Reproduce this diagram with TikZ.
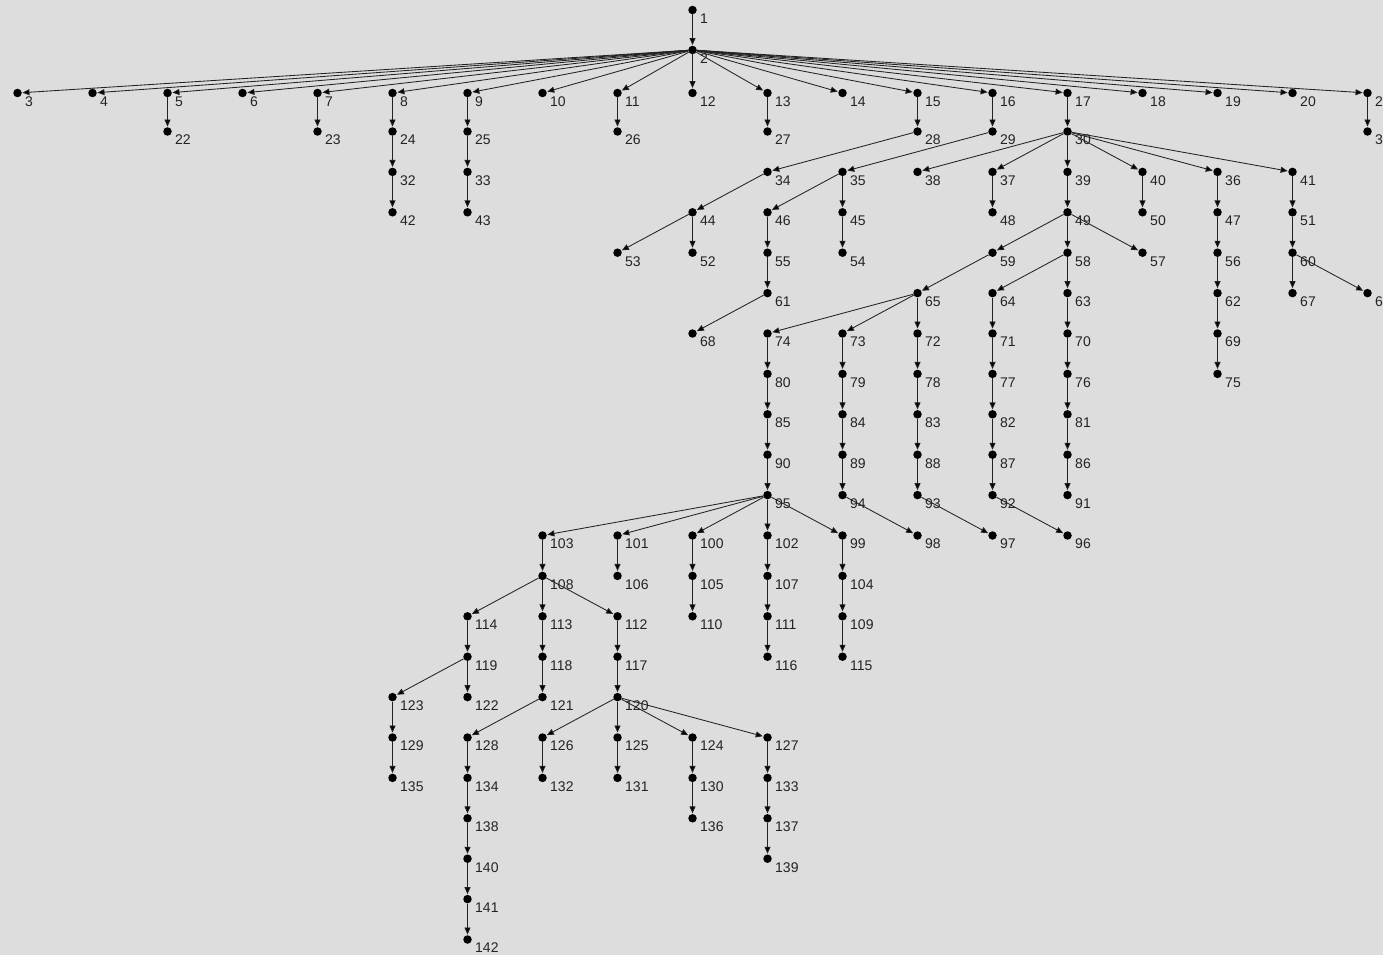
\documentclass[tikz,border=0pt]{standalone}
\usepackage{fontspec}
\setmainfont{Liberation Sans}
\usetikzlibrary{arrows.meta}
\definecolor{bg}{RGB}{221,221,221}
\definecolor{ink}{RGB}{35,35,35}
\tikzset{
  dot/.style={circle,fill=black,inner sep=0pt,minimum size=8.5pt},
  lbl/.style={anchor=north west,inner sep=0pt,text=ink,font=\fontsize{14}{15}\selectfont},
  edge/.style={draw=ink,line width=0.85pt,-{Triangle[length=7pt,width=6pt,fill=black]},shorten >=0.5pt},
}
\newcommand\treenodes{1/9/0, 2/9/1,
 3/0/2, 4/1/2, 5/2/2, 6/3/2, 7/4/2, 8/5/2, 9/6/2, 10/7/2, 11/8/2, 12/9/2, 13/10/2, 14/11/2, 15/12/2, 16/13/2, 17/14/2, 18/15/2, 19/16/2, 20/17/2, 21/18/2,
 22/2/3, 23/4/3, 24/5/3, 25/6/3, 26/8/3, 27/10/3, 28/12/3, 29/13/3, 30/14/3, 31/18/3,
 32/5/4, 33/6/4, 34/10/4, 35/11/4, 38/12/4, 37/13/4, 39/14/4, 40/15/4, 36/16/4, 41/17/4,
 42/5/5, 43/6/5, 44/9/5, 46/10/5, 45/11/5, 48/13/5, 49/14/5, 50/15/5, 47/16/5, 51/17/5,
 53/8/6, 52/9/6, 55/10/6, 54/11/6, 59/13/6, 58/14/6, 57/15/6, 56/16/6, 60/17/6,
 61/10/7, 65/12/7, 64/13/7, 63/14/7, 62/16/7, 67/17/7, 66/18/7,
 68/9/8, 74/10/8, 73/11/8, 72/12/8, 71/13/8, 70/14/8, 69/16/8,
 80/10/9, 79/11/9, 78/12/9, 77/13/9, 76/14/9, 75/16/9,
 85/10/10, 84/11/10, 83/12/10, 82/13/10, 81/14/10,
 90/10/11, 89/11/11, 88/12/11, 87/13/11, 86/14/11,
 95/10/12, 94/11/12, 93/12/12, 92/13/12, 91/14/12,
 103/7/13, 101/8/13, 100/9/13, 102/10/13, 99/11/13, 98/12/13, 97/13/13, 96/14/13,
 108/7/14, 106/8/14, 105/9/14, 107/10/14, 104/11/14,
 114/6/15, 113/7/15, 112/8/15, 110/9/15, 111/10/15, 109/11/15,
 119/6/16, 118/7/16, 117/8/16, 116/10/16, 115/11/16,
 123/5/17, 122/6/17, 121/7/17, 120/8/17,
 129/5/18, 128/6/18, 126/7/18, 125/8/18, 124/9/18, 127/10/18,
 135/5/19, 134/6/19, 132/7/19, 131/8/19, 130/9/19, 133/10/19,
 138/6/20, 136/9/20, 137/10/20,
 140/6/21, 139/10/21,
 141/6/22,
 142/6/23}
\begin{document}
\begin{tikzpicture}[x=1pt,y=-1pt]
\fill[bg] (0,0) rectangle (1383,955);
\clip (0,0) rectangle (1383,955);
\foreach \n/\c/\l in \treenodes {
  \pgfmathsetmacro\xx{17.5+75*\c}
  \pgfmathsetmacro\yy{\l==0 ? 10 : (\l==1 ? 50 : (\l==2 ? 93 : 131.5+40.4*(\l-3)))}
  \node[dot] (n\n) at (\xx,\yy) {};
}
\foreach \a/\b in {1/2, 2/3, 2/4, 2/5, 2/6, 2/7, 2/8, 2/9, 2/10, 2/11, 2/12, 2/13, 2/14, 2/15, 2/16, 2/17, 2/18, 2/19, 2/20, 2/21,
 5/22, 7/23, 8/24, 9/25, 11/26, 13/27, 15/28, 16/29, 17/30, 21/31,
 24/32, 25/33, 28/34, 29/35, 30/38, 30/37, 30/39, 30/40, 30/36, 30/41,
 32/42, 33/43, 34/44, 35/46, 35/45, 37/48, 39/49, 40/50, 36/47, 41/51,
 44/53, 44/52, 46/55, 45/54, 49/59, 49/58, 49/57, 47/56, 51/60,
 55/61, 59/65, 58/64, 58/63, 56/62, 60/67, 60/66,
 61/68, 65/74, 65/73, 65/72, 64/71, 63/70, 62/69,
 74/80, 73/79, 72/78, 71/77, 70/76, 69/75,
 80/85, 79/84, 78/83, 77/82, 76/81,
 85/90, 84/89, 83/88, 82/87, 81/86,
 90/95, 89/94, 88/93, 87/92, 86/91,
 95/103, 95/101, 95/100, 95/102, 95/99, 94/98, 93/97, 92/96,
 103/108, 101/106, 100/105, 102/107, 99/104,
 108/114, 108/113, 108/112, 105/110, 107/111, 104/109,
 114/119, 113/118, 112/117, 111/116, 109/115,
 119/123, 119/122, 118/121, 117/120,
 123/129, 121/128, 120/126, 120/125, 120/124, 120/127,
 129/135, 128/134, 126/132, 125/131, 124/130, 127/133,
 134/138, 130/136, 133/137,
 138/140, 137/139, 140/141, 141/142} {
  \draw[edge] (n\a) -- (n\b);
}
\foreach \n/\c/\l in \treenodes {
  \node[lbl] (t\n) at ([shift={(7.5,3.5)}]n\n.center) {\n};
}
\end{tikzpicture}
\end{document}
